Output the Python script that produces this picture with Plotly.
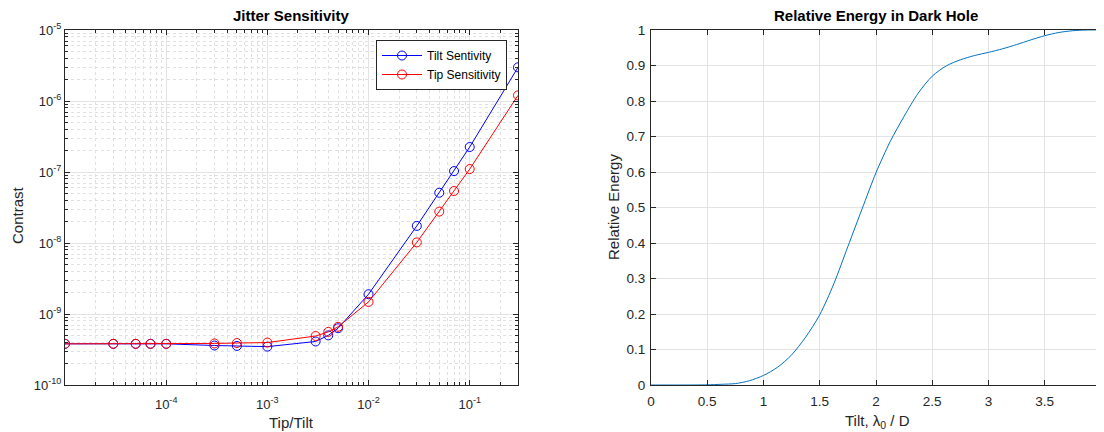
import plotly.graph_objects as go
import numpy as np

# ---- data: left panel (Jitter Sensitivity) ----
tip_tilt = [1e-5, 3e-5, 5e-5, 7e-5, 1e-4, 3e-4, 5e-4, 1e-3, 3e-3, 4e-3, 5e-3,
            1e-2, 3e-2, 5e-2, 7e-2, 1e-1, 3e-1]
tilt_sens = [3.8e-10, 3.8e-10, 3.8e-10, 3.8e-10, 3.8e-10, 3.6e-10, 3.55e-10, 3.47e-10,
             4.1e-10, 5.0e-10, 6.3e-10, 1.9e-9, 1.74e-8, 5.1e-8, 1.03e-7, 2.25e-7, 2.98e-6]
tip_sens = [3.8e-10, 3.8e-10, 3.8e-10, 3.8e-10, 3.8e-10, 3.85e-10, 3.9e-10, 3.96e-10,
            4.9e-10, 5.6e-10, 6.6e-10, 1.48e-9, 1.02e-8, 2.77e-8, 5.4e-8, 1.1e-7, 1.2e-6]

# ---- data: right panel (Relative Energy in Dark Hole) ----
tilt_ld = [0, 0.25, 0.5, 0.625, 0.75, 0.875, 1.0, 1.125, 1.25, 1.375, 1.5, 1.625,
           1.75, 1.875, 2.0, 2.125, 2.25, 2.375, 2.5, 2.625, 2.75, 2.875, 3.0,
           3.125, 3.25, 3.375, 3.5, 3.625, 3.75, 3.875, 4.0]
rel_energy = [0, 0, 0.0005, 0.002, 0.004, 0.012, 0.027, 0.05, 0.085, 0.135, 0.198, 0.285,
              0.39, 0.495, 0.598, 0.685, 0.757, 0.822, 0.87, 0.899, 0.916, 0.928, 0.937,
              0.947, 0.959, 0.972, 0.984, 0.993, 0.998, 1.0, 1.0]

# ---- tick labels ----
left_x_ticks = [1e-4, 1e-3, 1e-2, 1e-1]
left_x_labels = ["10<sup>-4</sup>", "10<sup>-3</sup>", "10<sup>-2</sup>", "10<sup>-1</sup>"]
left_y_ticks = [1e-10, 1e-9, 1e-8, 1e-7, 1e-6, 1e-5]
left_y_labels = ["10<sup>-10</sup>", "10<sup>-9</sup>", "10<sup>-8</sup>",
                 "10<sup>-7</sup>", "10<sup>-6</sup>", "10<sup>-5</sup>"]
right_x_ticks = [0, 0.5, 1, 1.5, 2, 2.5, 3, 3.5, 4]
right_x_labels = ["0", "0.5", "1", "1.5", "2", "2.5", "3", "3.5", "4"]
right_y_ticks = [0, 0.1, 0.2, 0.3, 0.4, 0.5, 0.6, 0.7, 0.8, 0.9, 1]
right_y_labels = ["0", "0.1", "0.2", "0.3", "0.4", "0.5", "0.6", "0.7", "0.8", "0.9", "1"]

minor_x = [k * 10.0 ** n for n in range(-5, 0) for k in range(2, 10)]
minor_y = [k * 10.0 ** n for n in range(-10, -5) for k in range(2, 10)]

FONT = "Liberation Sans, Arial, sans-serif"
AX = "#262626"
GRID = "#e3e3e3"
MGRID = "#e0e0e0"

# figure is drawn 8 px in from the page's top-left corner (body margin)
W, H, OFF = 1096, 424, 8


def px(x):
    return (x - OFF) / W


def py(y):
    return 1 - (y - OFF) / H


fig = go.Figure()
fig.add_trace(go.Scatter(x=tip_tilt, y=tilt_sens, name="Tilt Sentivity", mode="lines+markers",
                         line=dict(color="#0000ff", width=1),
                         marker=dict(symbol="circle-open", size=9, color="#0000ff", line=dict(width=1)),
                         xaxis="x", yaxis="y"))
fig.add_trace(go.Scatter(x=tip_tilt, y=tip_sens, name="Tip Sensitivity", mode="lines+markers",
                         line=dict(color="#ff0000", width=1),
                         marker=dict(symbol="circle-open", size=9, color="#ff0000", line=dict(width=1)),
                         xaxis="x", yaxis="y"))
fig.add_trace(go.Scatter(x=tilt_ld, y=rel_energy, mode="lines", showlegend=False,
                         line=dict(color="#0072BD", width=1, shape="spline", smoothing=0.8),
                         xaxis="x2", yaxis="y2"))

common = dict(showline=True, linecolor=AX, linewidth=1, mirror="allticks", ticks="inside",
              tickcolor=AX, ticklen=5, showgrid=True, gridcolor=GRID, gridwidth=1,
              zeroline=False, automargin=False, ticklabeloverflow="allow")
left_font = dict(family=FONT, size=13, color=AX)
right_font = dict(family=FONT, size=13.5, color=AX)

ydom = [py(385), py(30)]
fig.update_layout(
    width=W, height=H,
    margin=dict(l=0, r=0, t=0, b=0),
    paper_bgcolor="white", plot_bgcolor="white",
    font=dict(family=FONT, color=AX),
    xaxis=dict(type="log", domain=[px(65), px(518)], range=[-5, np.log10(0.3)],
               tickvals=left_x_ticks, ticktext=left_x_labels, tickfont=left_font,
               ticklabelstandoff=7,
               minor=dict(tickvals=minor_x, ticks="inside", ticklen=3, tickcolor=AX,
                          showgrid=True, gridcolor=MGRID, griddash="dot"),
               anchor="y", **common),
    yaxis=dict(type="log", domain=ydom, range=[-10, -5],
               tickvals=left_y_ticks, ticktext=left_y_labels, tickfont=left_font,
               minor=dict(tickvals=minor_y, ticks="inside", ticklen=3, tickcolor=AX,
                          showgrid=True, gridcolor=MGRID, griddash="dot"),
               anchor="x", **common),
    xaxis2=dict(domain=[px(651), px(1101)], range=[0, 4],
                tickvals=right_x_ticks, ticktext=right_x_labels, tickfont=right_font,
                ticklabelstandoff=4,
                anchor="y2", **common),
    yaxis2=dict(domain=ydom, range=[0, 1],
                tickvals=right_y_ticks, ticktext=right_y_labels, tickfont=right_font,
                ticklabelstandoff=2,
                anchor="x2", **common),
    legend=dict(x=px(376), y=py(40), xanchor="left", yanchor="top",
                bgcolor="white", bordercolor="#262626", borderwidth=1,
                font=dict(family=FONT, size=12, color="#000000"),
                tracegroupgap=0, itemwidth=40),
)

titles = [
    ("<b>Jitter Sensitivity</b>", (65 + 518) / 2, 16, 0, 15, "#000000"),
    ("<b>Relative Energy in Dark Hole</b>", (651 + 1101) / 2, 16, 0, 15, "#000000"),
    ("Tip/Tilt", (65 + 518) / 2, 422, 0, 15, AX),
    ("Contrast", 17, 215, -90, 15, AX),
    ("Relative Energy", 613, 207, -90, 15, AX),
    ("Tilt, λ<sub>0</sub> / D", 877, 421, 0, 15, AX),
]
for text, x, y, ang, size, col in titles:
    fig.add_annotation(text=text, x=px(x), y=py(y), xref="paper", yref="paper",
                       showarrow=False, xanchor="center", yanchor="middle", textangle=ang,
                       font=dict(family=FONT, size=size, color=col))

fig.write_html("out.html")
